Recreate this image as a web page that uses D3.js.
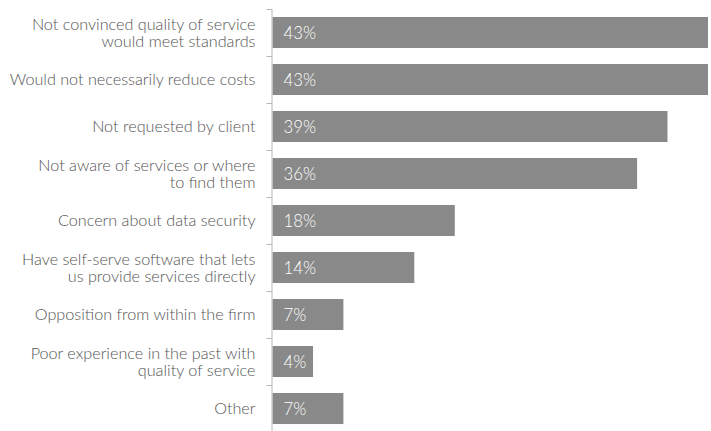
<!DOCTYPE html>
<html>
<head>
<meta charset="utf-8">
<script src="https://cdn.jsdelivr.net/npm/d3@7"></script>
<style>
  html, body { margin: 0; padding: 0; background: #fff; }
  svg { display: block; }
  .cat { font-family: Lato, sans-serif; font-weight: 300; font-size: 16.2px; fill: #555; }
  .val { font-family: Lato, sans-serif; font-weight: 300; font-size: 16.8px; fill: #fff; }
</style>
</head>
<body>
<svg id="chart" width="711" height="431"></svg>
<script>
// Reasons for not using outside services (share of respondents, %)
const categories = [
  "Not convinced quality of service\nwould meet standards",
  "Would not necessarily reduce costs",
  "Not requested by client",
  "Not aware of services or where\nto find them",
  "Concern about data security",
  "Have self-serve software that lets\nus provide services directly",
  "Opposition from within the firm",
  "Poor experience in the past with\nquality of service",
  "Other"
];
const values = [43, 43, 39, 36, 18, 14, 7, 4, 7];
const valueLabels = values.map(v => v + "%");

const svg = d3.select("#chart");
const x0 = 272.5, x1 = 708, yTop = 9, yBottom = 432;

const x = d3.scaleLinear().domain([0, 43]).range([x0, x1]);
const y = d3.scaleBand().domain(categories).range([yTop, yBottom])
  .paddingInner(0.34).paddingOuter(0.17);

// Bars
svg.append("g").selectAll("rect").data(categories).join("rect")
  .attr("x", x(0))
  .attr("y", d => y(d))
  .attr("width", (d, i) => x(values[i]) - x(0))
  .attr("height", y.bandwidth())
  .attr("fill", "#888988");

// Value labels inside bars
svg.append("g").selectAll("text").data(categories).join("text")
  .attr("class", "val")
  .attr("x", x(0) + 11)
  .attr("y", d => y(d) + y.bandwidth() / 2)
  .attr("dy", "0.36em")
  .text((d, i) => valueLabels[i]);

// Vertical axis line with tick marks between bands
const axis = svg.append("g");
axis.append("line")
  .attr("x1", x(0) - 0.5).attr("x2", x(0) - 0.5)
  .attr("y1", yTop).attr("y2", 431)
  .attr("stroke", "#b8b8b8").attr("stroke-width", 1);

const gap = y.step() - y.bandwidth();
axis.selectAll("line.tick").data(categories).join("line")
  .attr("class", "tick")
  .attr("x1", x(0) - 6).attr("x2", x(0) - 0.5)
  .attr("y1", d => Math.round(y(d) - gap / 2) + 0.5)
  .attr("y2", d => Math.round(y(d) - gap / 2) + 0.5)
  .attr("stroke", "#b8b8b8").attr("stroke-width", 1);

// Category labels, right-aligned, possibly two lines
const lineH = 17.5;
svg.append("g").selectAll("text").data(categories).join("text")
  .attr("class", "cat")
  .attr("text-anchor", "end")
  .attr("x", x(0) - 17)
  .attr("y", d => y(d) + y.bandwidth() / 2)
  .each(function (d) {
    const lines = d.split("\n");
    const t = d3.select(this);
    const start = -(lines.length - 1) * lineH / 2;
    lines.forEach((ln, k) => {
      t.append("tspan")
        .attr("x", x(0) - 17)
        .attr("dy", k === 0 ? (start + 5.8) + "px" : lineH + "px")
        .text(ln);
    });
  });
</script>
</body>
</html>
